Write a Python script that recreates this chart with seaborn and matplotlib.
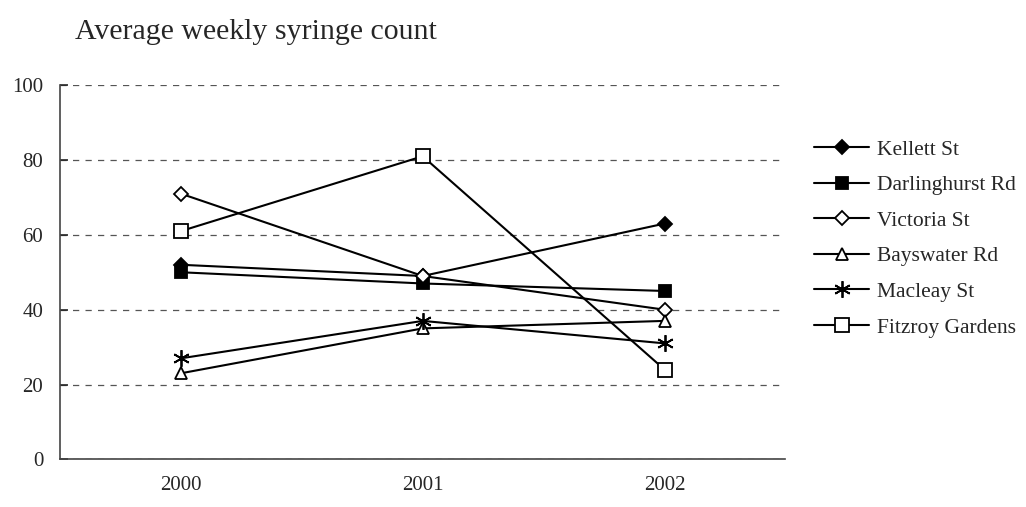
import matplotlib
matplotlib.use("Agg")
import matplotlib.pyplot as plt
import seaborn as sns

# data
years = ["2000", "2001", "2002"]
kellett = [52, 49, 63]
darlinghurst = [50, 47, 45]
victoria = [71, 49, 40]
bayswater = [23, 35, 37]
macleay = [27, 37, 31]
fitzroy = [61, 81, 24]

series_names = ["Kellett St", "Darlinghurst Rd", "Victoria St",
                "Bayswater Rd", "Macleay St", "Fitzroy Gardens"]
series_values = [kellett, darlinghurst, victoria, bayswater, macleay, fitzroy]
# marker, face colour, size
styles = [("D", "black", 7), ("s", "black", 8), ("D", "white", 7),
          ("^", "white", 9), ((6, 2, 0), "black", 12), ("s", "white", 10)]

sns.set_style("white")
plt.rcParams['font.family'] = ['Liberation Serif', 'DejaVu Serif']

fig = plt.figure(figsize=(10.26, 5.07), dpi=100)
ax = fig.add_axes([0.0585, 0.094, 0.707, 0.738])

for name, vals, (mk, fc, ms) in zip(series_names, series_values, styles):
    sns.lineplot(x=years, y=vals, ax=ax, color="black", linewidth=1.5,
                 marker=mk, markersize=ms, markerfacecolor=fc,
                 markeredgecolor="black", markeredgewidth=1.3, label=name)

ax.set_xlim(-0.5, 2.5)
ax.set_ylim(0, 100)
ax.set_yticks([0, 20, 40, 60, 80, 100])
ax.yaxis.grid(True, linestyle=(0, (5, 5)), color="#555555", linewidth=0.9)
ax.set_axisbelow(True)
for side in ["top", "right"]:
    ax.spines[side].set_visible(False)
for side in ["left", "bottom"]:
    ax.spines[side].set_color("#444444")
    ax.spines[side].set_linewidth(1.2)
ax.tick_params(axis="y", direction="in", length=6, width=1.2, labelsize=15,
               left=True, pad=12)
ax.tick_params(axis="x", length=0, labelsize=15, pad=12)
ax.set_xlabel("")
ax.set_ylabel("")

fig.text(0.073, 0.936, "Average weekly syringe count", fontsize=21.5, va="center")

ax.legend(loc="center left", bbox_to_anchor=(1.028, 0.59), frameon=False,
          fontsize=15.5, handlelength=2.55, handletextpad=0.35,
          labelspacing=0.72, borderaxespad=0)

plt.savefig("out.png", dpi=100)
